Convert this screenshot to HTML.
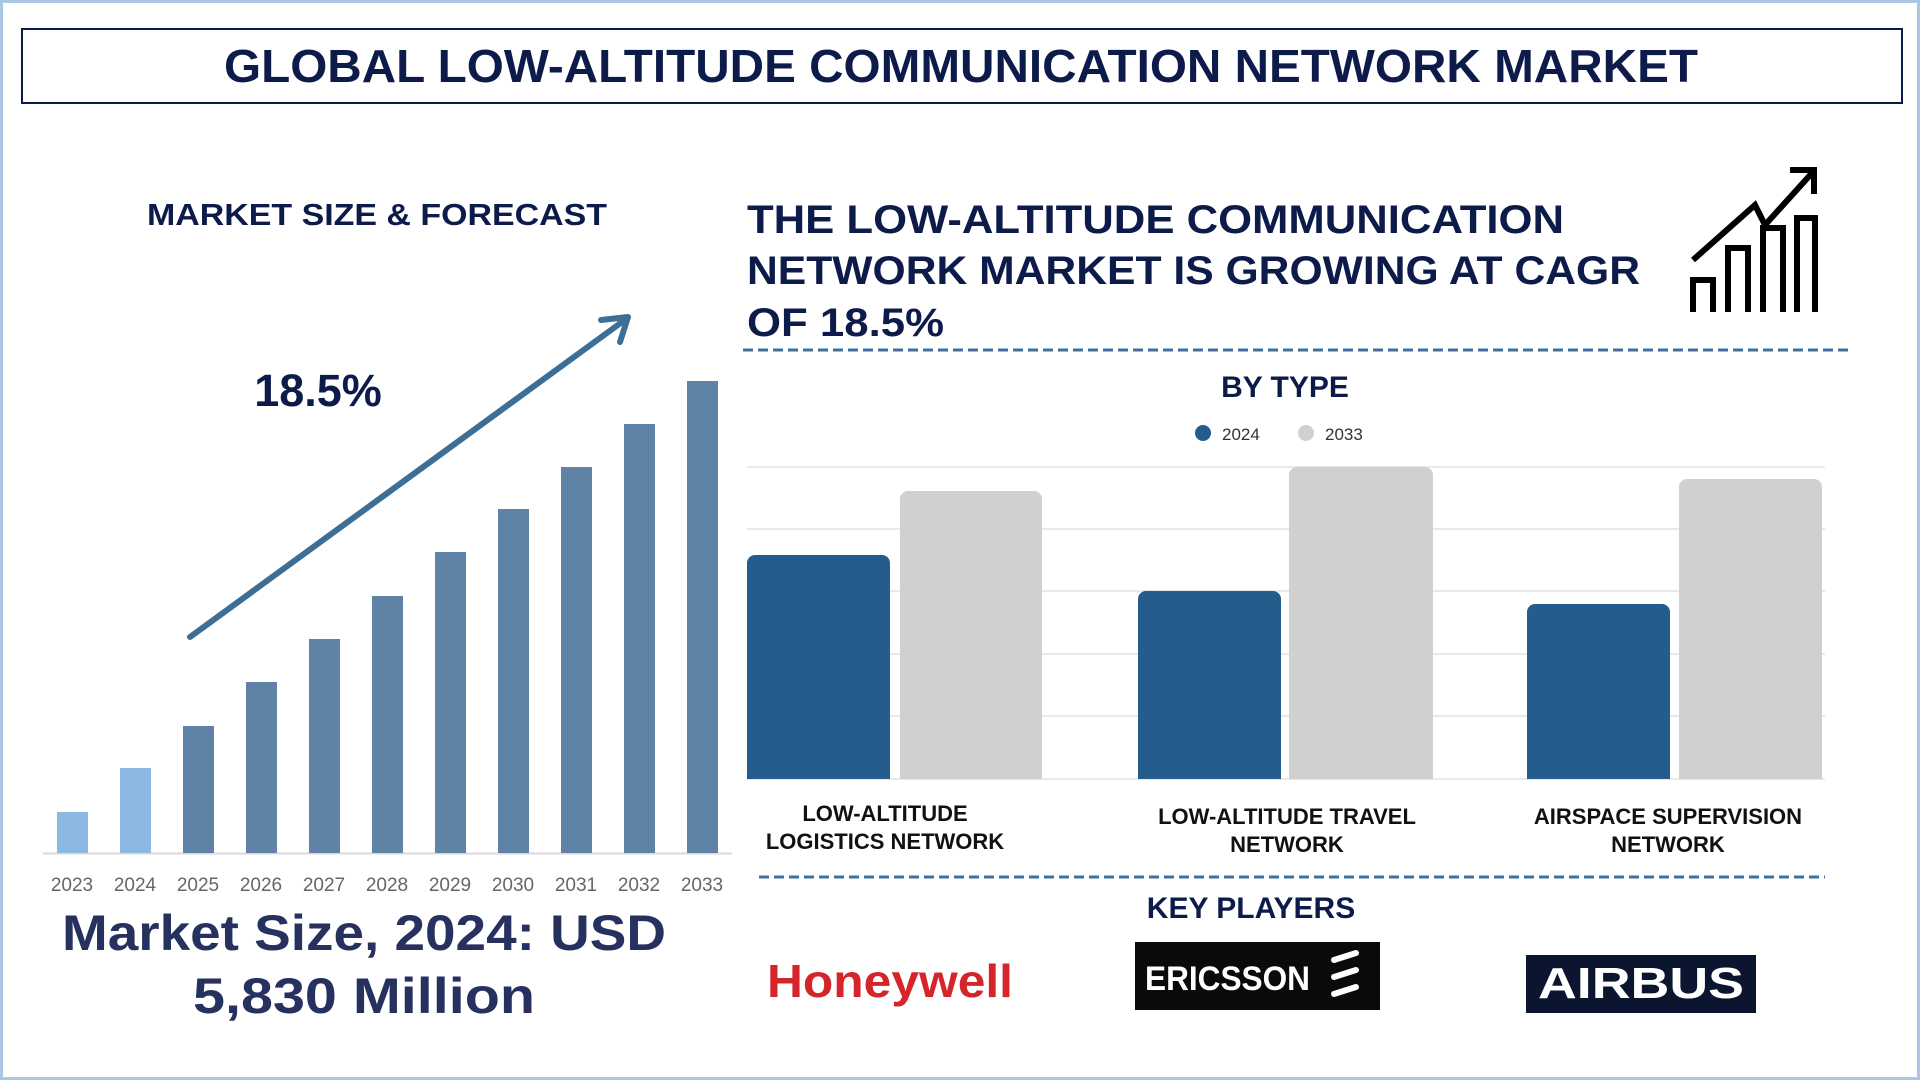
<!DOCTYPE html>
<html><head><meta charset="utf-8"><style>
html,body{margin:0;padding:0;background:#fff;}
svg{display:block;}
text{font-family:"Liberation Sans",sans-serif;font-weight:bold;}
</style></head><body>
<svg width="1920" height="1080" viewBox="0 0 1920 1080" xmlns="http://www.w3.org/2000/svg">
<rect x="1.5" y="1.5" width="1917" height="1077" fill="#fff" stroke="#a9c6e6" stroke-width="3"/>
<rect x="22" y="29" width="1880" height="74" fill="#fff" stroke="#0d1b4b" stroke-width="2"/>
<text x="961" y="82" text-anchor="middle" font-size="46" fill="#0d1b4b" textLength="1474" lengthAdjust="spacingAndGlyphs">GLOBAL LOW-ALTITUDE COMMUNICATION NETWORK MARKET</text>

<text x="377" y="225" text-anchor="middle" font-size="31" fill="#0d1b4b" textLength="460" lengthAdjust="spacingAndGlyphs">MARKET SIZE &amp; FORECAST</text>

<!-- left bars -->
<line x1="43" y1="853.5" x2="732" y2="853.5" stroke="#d8d8d8" stroke-width="2"/>
<g>
<rect x="57" y="812" width="31" height="41" fill="#8cb9e2"/>
<rect x="120" y="768" width="31" height="85" fill="#8cb9e2"/>
<rect x="183" y="726" width="31" height="127" fill="#5f83a6"/>
<rect x="246" y="682" width="31" height="171" fill="#5f83a6"/>
<rect x="309" y="639" width="31" height="214" fill="#5f83a6"/>
<rect x="372" y="596" width="31" height="257" fill="#5f83a6"/>
<rect x="435" y="552" width="31" height="301" fill="#5f83a6"/>
<rect x="498" y="509" width="31" height="344" fill="#5f83a6"/>
<rect x="561" y="467" width="31" height="386" fill="#5f83a6"/>
<rect x="624" y="424" width="31" height="429" fill="#5f83a6"/>
<rect x="687" y="381" width="31" height="472" fill="#5f83a6"/>
</g>
<g font-size="19" fill="#666" text-anchor="middle" style="font-weight:normal">
<text x="72" y="891" style="font-weight:normal">2023</text>
<text x="135" y="891" style="font-weight:normal">2024</text>
<text x="198" y="891" style="font-weight:normal">2025</text>
<text x="261" y="891" style="font-weight:normal">2026</text>
<text x="324" y="891" style="font-weight:normal">2027</text>
<text x="387" y="891" style="font-weight:normal">2028</text>
<text x="450" y="891" style="font-weight:normal">2029</text>
<text x="513" y="891" style="font-weight:normal">2030</text>
<text x="576" y="891" style="font-weight:normal">2031</text>
<text x="639" y="891" style="font-weight:normal">2032</text>
<text x="702" y="891" style="font-weight:normal">2033</text>
</g>
<line x1="190" y1="637" x2="622" y2="322" stroke="#3d6f96" stroke-width="6" stroke-linecap="round"/>
<polyline points="601,320 628,317 620,342" fill="none" stroke="#3d6f96" stroke-width="6" stroke-linecap="round" stroke-linejoin="round"/>
<text x="318" y="406" text-anchor="middle" font-size="45" fill="#0d1b4b">18.5%</text>

<text x="364" y="950" text-anchor="middle" font-size="50" fill="#27315f" textLength="604" lengthAdjust="spacingAndGlyphs">Market Size, 2024: USD</text>
<text x="364" y="1013" text-anchor="middle" font-size="50" fill="#27315f" textLength="342" lengthAdjust="spacingAndGlyphs">5,830 Million</text>

<!-- right heading -->
<g font-size="40" fill="#0d1b4b">
<text x="747" y="233" textLength="817" lengthAdjust="spacingAndGlyphs">THE LOW-ALTITUDE COMMUNICATION</text>
<text x="747" y="284" textLength="893" lengthAdjust="spacingAndGlyphs">NETWORK MARKET IS GROWING AT CAGR</text>
<text x="747" y="336" textLength="197" lengthAdjust="spacingAndGlyphs">OF 18.5%</text>
</g>
<!-- icon -->
<g fill="none" stroke="#000" stroke-width="6">
<polyline points="1693,260 1755,205 1765,225 1812,173"/>
<polyline points="1790,170 1814,170 1814,194"/>
<polyline points="1693,312 1693,280 1713,280 1713,312"/>
<polyline points="1728,312 1728,248 1748,248 1748,312"/>
<polyline points="1763,312 1763,228 1783,228 1783,312"/>
<polyline points="1797,312 1797,218 1815,218 1815,312"/>
</g>
<line x1="743" y1="350" x2="1851" y2="350" stroke="#3f6fa0" stroke-width="3" stroke-dasharray="10,5"/>

<text x="1285" y="397" text-anchor="middle" font-size="30" fill="#0d1b4b">BY TYPE</text>
<circle cx="1203" cy="433" r="8" fill="#245d8c"/>
<text x="1222" y="440" font-size="17" fill="#333" style="font-weight:normal">2024</text>
<circle cx="1306" cy="433" r="8" fill="#d0d0d0"/>
<text x="1325" y="440" font-size="17" fill="#333" style="font-weight:normal">2033</text>

<g stroke="#e2e2e2" stroke-width="1.5">
<line x1="747" y1="467" x2="1825" y2="467"/>
<line x1="747" y1="529" x2="1825" y2="529"/>
<line x1="747" y1="591" x2="1825" y2="591"/>
<line x1="747" y1="654" x2="1825" y2="654"/>
<line x1="747" y1="716" x2="1825" y2="716"/>
<line x1="747" y1="779" x2="1825" y2="779"/>
</g>
<g>
<path d="M747,779 V563 a8,8 0 0 1 8,-8 H882 a8,8 0 0 1 8,8 V779 Z" fill="#245d8c"/>
<path d="M900,779 V499 a8,8 0 0 1 8,-8 H1034 a8,8 0 0 1 8,8 V779 Z" fill="#d0d0d0"/>
<path d="M1138,779 V599 a8,8 0 0 1 8,-8 H1273 a8,8 0 0 1 8,8 V779 Z" fill="#245d8c"/>
<path d="M1289,779 V475 a8,8 0 0 1 8,-8 H1425 a8,8 0 0 1 8,8 V779 Z" fill="#d0d0d0"/>
<path d="M1527,779 V612 a8,8 0 0 1 8,-8 H1662 a8,8 0 0 1 8,8 V779 Z" fill="#245d8c"/>
<path d="M1679,779 V487 a8,8 0 0 1 8,-8 H1814 a8,8 0 0 1 8,8 V779 Z" fill="#d0d0d0"/>
</g>
<g font-size="22" fill="#111" text-anchor="middle">
<text x="885" y="821">LOW-ALTITUDE</text>
<text x="885" y="849">LOGISTICS NETWORK</text>
<text x="1287" y="824">LOW-ALTITUDE TRAVEL</text>
<text x="1287" y="852">NETWORK</text>
<text x="1668" y="824">AIRSPACE SUPERVISION</text>
<text x="1668" y="852">NETWORK</text>
</g>
<line x1="759" y1="877" x2="1825" y2="877" stroke="#3f6fa0" stroke-width="3" stroke-dasharray="10,5"/>
<text x="1251" y="918" text-anchor="middle" font-size="30" fill="#0d1b4b">KEY PLAYERS</text>

<text x="890" y="997" text-anchor="middle" font-size="46" fill="#d4252b" textLength="246" lengthAdjust="spacingAndGlyphs">Honeywell</text>
<rect x="1135" y="942" width="245" height="68" fill="#0a0a0a"/>
<text x="1145" y="990" font-size="34" fill="#fff" textLength="165" lengthAdjust="spacingAndGlyphs">ERICSSON</text>
<g stroke="#fff" stroke-width="6" stroke-linecap="round">
<line x1="1334" y1="960" x2="1356" y2="953"/>
<line x1="1334" y1="977" x2="1356" y2="970"/>
<line x1="1334" y1="994" x2="1356" y2="987"/>
</g>
<rect x="1526" y="955" width="230" height="58" fill="#0c1530"/>
<text x="1641" y="998" text-anchor="middle" font-size="44" fill="#fff" textLength="206" lengthAdjust="spacingAndGlyphs">AIRBUS</text>
</svg>
</body></html>
